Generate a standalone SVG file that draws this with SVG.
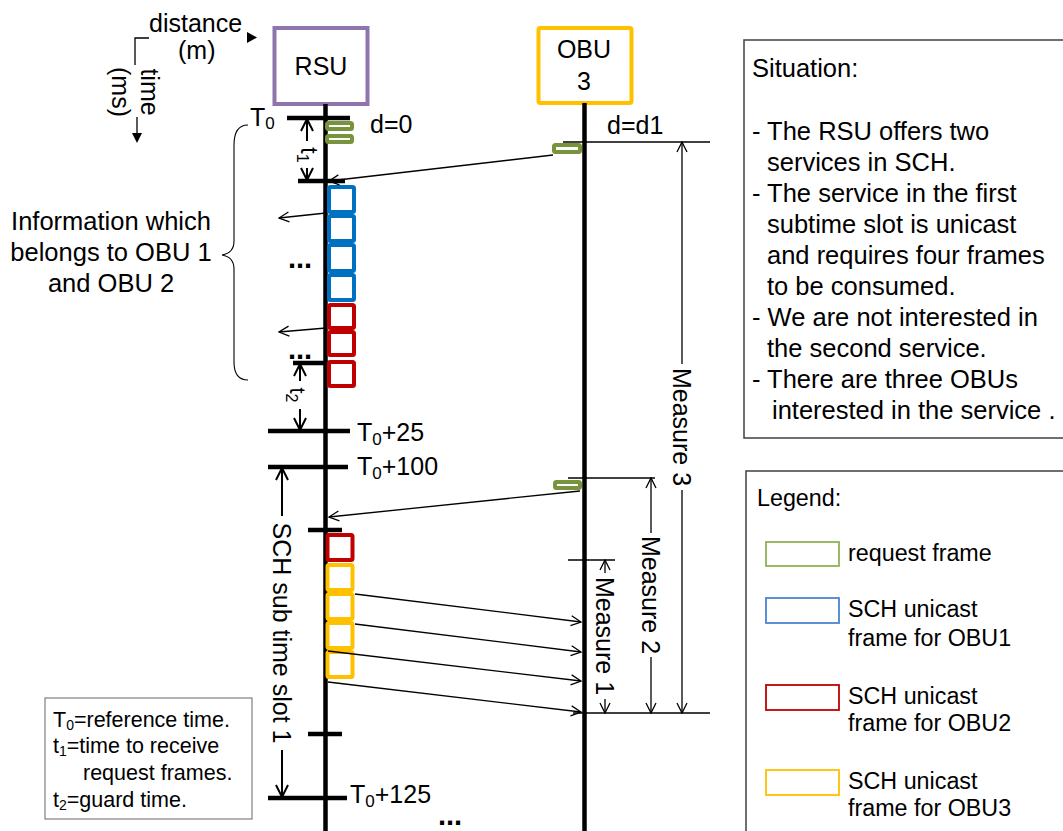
<svg xmlns="http://www.w3.org/2000/svg" width="1063" height="831" viewBox="0 0 1063 831">
<style>
text{font-family:"Liberation Sans",Arial,sans-serif;fill:#000}
.f25{font-size:25px}
.sit{font-size:25.5px}
.leg{font-size:23.3px}
.note{font-size:21.5px}
.life{stroke:#000;stroke-width:4.5}
.tick{stroke:#000;stroke-width:4.5}
.thin{stroke:#000;stroke-width:1.3;fill:none}
.dim{stroke:#000;stroke-width:2;fill:none}
.req{fill:#fff;stroke:#77933C;stroke-width:4}
.blue{fill:#fff;stroke:#0070C0;stroke-width:4}
.red{fill:#fff;stroke:#C00000;stroke-width:4}
.yel{fill:#fff;stroke:#FFC000;stroke-width:4}
.box{fill:#fff;stroke:#404040;stroke-width:1.5}
.bold{font-weight:bold;font-size:29px}
</style>
<defs>
<marker id="ah" viewBox="0 0 12 12" refX="11" refY="6" markerWidth="12" markerHeight="12" markerUnits="userSpaceOnUse" orient="auto-start-reverse"><path d="M1,1 L11,6 L1,11" fill="none" stroke="#000" stroke-width="1.3"/></marker>
<marker id="ahb" viewBox="0 0 14 14" refX="13" refY="7" markerWidth="14" markerHeight="14" markerUnits="userSpaceOnUse" orient="auto-start-reverse"><path d="M1,1 L13,7 L1,13" fill="none" stroke="#000" stroke-width="2"/></marker>
</defs>
<rect width="1063" height="831" fill="#fff"/>

<g id="axes">
<text class="f25" x="149" y="32">distance</text>
<text class="f25" x="178" y="59">(m)</text>
<polygon points="247,32 257,37.5 247,43" fill="#000"/>
<polyline points="149,38 135,38 135,65" class="thin"/>
<text class="f25" transform="translate(141,92) rotate(90)" text-anchor="middle">time</text>
<text class="f25" transform="translate(112,92) rotate(90)" text-anchor="middle">(ms)</text>
<line x1="137" y1="117" x2="137" y2="134" class="thin" stroke-width="1.5"/>
<polygon points="132,133 142,133 137,143" fill="#000"/>
</g>

<g id="rsu">
<rect x="274.5" y="28" width="93" height="76" fill="#fff" stroke="#8F74AE" stroke-width="4"/>
<text class="f25" x="321" y="75" text-anchor="middle">RSU</text>
<line x1="325.5" y1="104" x2="325.5" y2="831" class="life"/>
</g>

<g id="obu3">
<rect x="538.5" y="28" width="93" height="75" fill="#fff" stroke="#FFC000" stroke-width="4" rx="2"/>
<text class="f25" x="584" y="58" text-anchor="middle">OBU</text>
<text class="f25" x="584" y="90" text-anchor="middle">3</text>
<line x1="584.5" y1="103" x2="584.5" y2="831" class="life"/>
</g>

<g id="ticks">
<line x1="287" y1="118" x2="350" y2="118" class="tick"/>
<line x1="298" y1="181" x2="345" y2="181" class="tick"/>
<line x1="293" y1="363" x2="342" y2="363" class="tick"/>
<line x1="268" y1="431" x2="350" y2="431" class="tick"/>
<line x1="268" y1="467" x2="348" y2="467" class="tick"/>
<line x1="308" y1="530" x2="342" y2="530" class="tick"/>
<line x1="308" y1="734" x2="342" y2="734" class="tick"/>
<line x1="268" y1="798" x2="347" y2="798" class="tick"/>
<text class="f25" x="250" y="126">T<tspan font-size="17" dy="3">0</tspan></text>
<text class="f25" x="370" y="133">d=0</text>
<text class="f25" x="607" y="134">d=d1</text>
<text class="f25" x="357" y="441">T<tspan font-size="17" dy="4">0</tspan><tspan dy="-4">+25</tspan></text>
<text class="f25" x="357" y="475">T<tspan font-size="17" dy="4">0</tspan><tspan dy="-4">+100</tspan></text>
<text class="f25" x="350" y="803">T<tspan font-size="17" dy="4">0</tspan><tspan dy="-4">+125</tspan></text>
<text class="bold" x="288" y="268">...</text>
<text class="bold" x="288" y="359">...</text>
<text class="bold" x="438" y="825">...</text>
</g>

<g id="frames">
<rect x="327" y="123" width="25" height="6" rx="1.5" class="req"/>
<rect x="327" y="136" width="25" height="6" rx="1.5" class="req"/>
<rect x="554" y="145" width="26" height="7" rx="1.5" class="req"/>
<rect x="555" y="482" width="25" height="6" rx="1.5" class="req"/>
<rect x="329" y="187" width="25" height="25" rx="1.5" class="blue"/>
<rect x="329" y="216" width="25" height="25" rx="1.5" class="blue"/>
<rect x="329" y="245" width="25" height="26" rx="1.5" class="blue"/>
<rect x="329" y="275" width="25" height="25" rx="1.5" class="blue"/>
<rect x="329" y="305" width="25" height="23" rx="1.5" class="red"/>
<rect x="329" y="332" width="25" height="23" rx="1.5" class="red"/>
<rect x="329" y="362" width="25" height="24" rx="1.5" class="red"/>
<rect x="327.5" y="535" width="25" height="25" rx="1.5" class="red"/>
<rect x="327.5" y="565" width="25" height="25" rx="1.5" class="yel"/>
<rect x="327.5" y="594" width="25" height="25" rx="1.5" class="yel"/>
<rect x="327.5" y="623" width="25" height="25" rx="1.5" class="yel"/>
<rect x="327.5" y="652" width="25" height="25" rx="1.5" class="yel"/>
</g>

<g id="connectors">
<line x1="553" y1="155" x2="329" y2="181" class="thin" marker-end="url(#ah)"/>
<line x1="580" y1="491" x2="329" y2="517" class="thin" marker-end="url(#ah)"/>
<line x1="326" y1="213" x2="279" y2="218" class="thin" marker-end="url(#ah)"/>
<line x1="326" y1="328" x2="279" y2="332" class="thin" marker-end="url(#ah)"/>
<line x1="355" y1="594" x2="581" y2="622" class="thin" marker-end="url(#ah)"/>
<line x1="355" y1="624" x2="581" y2="652" class="thin" marker-end="url(#ah)"/>
<line x1="328" y1="651" x2="581" y2="681" class="thin" marker-end="url(#ah)"/>
<line x1="328" y1="682" x2="581" y2="712" class="thin" marker-end="url(#ah)"/>
</g>

<g id="dimensions">
<line x1="307" y1="119" x2="307" y2="141" class="dim" marker-start="url(#ahb)"/>
<line x1="307" y1="168" x2="307" y2="180" class="dim" marker-end="url(#ahb)"/>
<text font-size="23" transform="translate(301,155) rotate(90)" text-anchor="middle">t<tspan font-size="16" dy="4">1</tspan></text>
<line x1="300" y1="364" x2="300" y2="381" class="dim" marker-start="url(#ahb)"/>
<line x1="300" y1="409" x2="300" y2="430" class="dim" marker-end="url(#ahb)"/>
<text font-size="22" transform="translate(290,395) rotate(90)" text-anchor="middle">t<tspan font-size="16" dy="4">2</tspan></text>
<line x1="282" y1="468" x2="282" y2="516" class="dim" marker-start="url(#ahb)"/>
<line x1="282" y1="750" x2="282" y2="797" class="dim" marker-end="url(#ahb)"/>
<text class="f25" transform="translate(273,633) rotate(90)" text-anchor="middle">SCH sub time slot 1</text>
<line x1="563" y1="142" x2="710" y2="142" class="thin"/>
<line x1="568" y1="478" x2="655" y2="478" class="thin"/>
<line x1="568" y1="560" x2="615" y2="560" class="thin"/>
<line x1="573" y1="713" x2="710" y2="713" class="thin"/>
<line x1="682" y1="142" x2="682" y2="364" class="thin" marker-start="url(#ah)"/>
<line x1="682" y1="490" x2="682" y2="713" class="thin" marker-end="url(#ah)"/>
<text class="f25" transform="translate(673,427) rotate(90)" text-anchor="middle">Measure 3</text>
<line x1="651" y1="478" x2="651" y2="533" class="thin" marker-start="url(#ah)"/>
<line x1="651" y1="657" x2="651" y2="713" class="thin" marker-end="url(#ah)"/>
<text class="f25" transform="translate(642,595) rotate(90)" text-anchor="middle">Measure 2</text>
<line x1="605" y1="560" x2="605" y2="573" class="thin" marker-start="url(#ah)"/>
<line x1="605" y1="699" x2="605" y2="713" class="thin" marker-end="url(#ah)"/>
<text class="f25" transform="translate(596,636) rotate(90)" text-anchor="middle">Measure 1</text>
</g>

<g id="info">
<path d="M248,125 Q234,125 234,145 L234,241 Q234,253 222,255 Q234,257 234,269 L234,362 Q234,380 248,380" fill="none" stroke="#000" stroke-width="1.1"/>
<text font-size="25.5" x="111" y="230" text-anchor="middle">Information which</text>
<text font-size="25.5" x="111" y="261" text-anchor="middle">belongs to OBU 1</text>
<text font-size="25.5" x="111" y="292" text-anchor="middle">and OBU 2</text>
</g>

<g id="situation">
<rect x="744" y="40" width="330" height="398" class="box"/>
<text class="sit" x="752" y="77">Situation:</text>
<text class="sit" x="752" y="140">- The RSU offers two</text>
<text class="sit" x="767" y="171">services in SCH.</text>
<text class="sit" x="752" y="202">- The service in the first</text>
<text class="sit" x="767" y="233">subtime slot is unicast</text>
<text class="sit" x="767" y="264">and requires four frames</text>
<text class="sit" x="767" y="295">to be consumed.</text>
<text class="sit" x="752" y="326">- We are not interested in</text>
<text class="sit" x="767" y="357">the second service.</text>
<text class="sit" x="752" y="388">- There are three OBUs</text>
<text class="sit" x="772" y="419">interested in the service .</text>
</g>

<g id="legend">
<rect x="746" y="471" width="330" height="370" class="box"/>
<text class="leg" x="757" y="506">Legend:</text>
<rect x="766" y="542" width="73" height="24" fill="#fff" stroke="#8DB255" stroke-width="1.8"/>
<text class="leg" x="848" y="561">request frame</text>
<rect x="766" y="598" width="73" height="25" fill="#fff" stroke="#4A86D0" stroke-width="1.8"/>
<text class="leg" x="848" y="617">SCH unicast</text>
<text class="leg" x="848" y="646">frame for OBU1</text>
<rect x="766" y="685" width="73" height="25" fill="#fff" stroke="#C00000" stroke-width="1.8"/>
<text class="leg" x="848" y="704">SCH unicast</text>
<text class="leg" x="848" y="731">frame for OBU2</text>
<rect x="766" y="770" width="73" height="25" fill="#fff" stroke="#FFC000" stroke-width="1.8"/>
<text class="leg" x="848" y="789">SCH unicast</text>
<text class="leg" x="848" y="816">frame for OBU3</text>
</g>

<g id="notes">
<rect x="45" y="698" width="207" height="121" fill="#fff" stroke="#7F7F7F" stroke-width="1.2"/>
<text class="note" x="53" y="727">T<tspan font-size="14" dy="3">0</tspan><tspan dy="-3">=reference time.</tspan></text>
<text class="note" x="53" y="753">t<tspan font-size="14" dy="3">1</tspan><tspan dy="-3">=time to receive</tspan></text>
<text class="note" x="83" y="780">request frames.</text>
<text class="note" x="53" y="807">t<tspan font-size="14" dy="3">2</tspan><tspan dy="-3">=guard time.</tspan></text>
</g>
</svg>
